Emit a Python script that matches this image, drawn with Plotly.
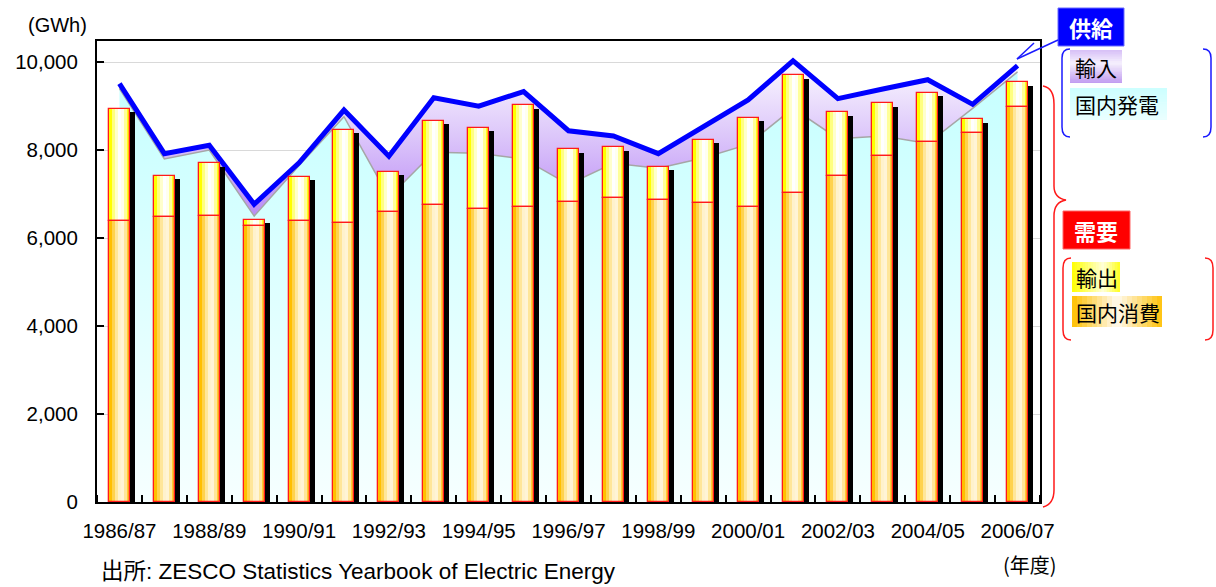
import plotly.graph_objects as go

# ---------------- data (GWh) ----------------
years = ["1986/87", "1987/88", "1988/89", "1989/90", "1990/91", "1991/92", "1992/93",
         "1993/94", "1994/95", "1995/96", "1996/97", "1997/98", "1998/99", "1999/00",
         "2000/01", "2001/02", "2002/03", "2003/04", "2004/05", "2005/06", "2006/07"]
tick_labels = ["1986/87", "", "1988/89", "", "1990/91", "", "1992/93", "", "1994/95", "",
               "1996/97", "", "1998/99", "", "2000/01", "", "2002/03", "", "2004/05", "", "2006/07"]

# supply side
domestic_generation = [9400, 7800, 8000, 6500, 7650, 8760, 6930, 7950, 7930, 7800, 7220,
                       7700, 7590, 7820, 8130, 8950, 8260, 8320, 8150, 8950, 9780]
imports = [110, 120, 110, 270, 60, 150, 930, 1240, 1070, 1530, 1220,
           620, 330, 710, 1010, 1080, 910, 1070, 1450, 90, 140]

# demand side
domestic_consumption = [6390, 6470, 6510, 6270, 6390, 6350, 6590, 6750, 6670, 6710, 6830,
                        6900, 6860, 6790, 6710, 7020, 7420, 7860, 8180, 8380, 8990]
exports = [2550, 950, 1190, 150, 1000, 2110, 910, 1910, 1830, 2310, 1190,
           1160, 760, 1440, 2030, 2680, 1440, 1200, 1120, 320, 550]

y_ticks = [0, 2000, 4000, 6000, 8000, 10000]

# ---------------- helpers ----------------
W, H = 1216, 587
L, R, T, B = 97, 1040, 41, 502


def px(x):
    return (x - L) / (R - L)


def py(y):
    return (B - y) / (B - T)


def hex2rgb(h):
    h = h.lstrip("#")
    return tuple(int(h[i:i + 2], 16) for i in (0, 2, 4))


def interp(stops, t):
    for (t0, c0), (t1, c1) in zip(stops[:-1], stops[1:]):
        if t0 <= t <= t1:
            f = 0 if t1 == t0 else (t - t0) / (t1 - t0)
            a, b = hex2rgb(c0), hex2rgb(c1)
            return "rgb(%d,%d,%d)" % tuple(round(a[i] + (b[i] - a[i]) * f) for i in range(3))
    return stops[-1][1]


x = list(range(len(years)))
supply_total = [g + i for g, i in zip(domestic_generation, imports)]
demand_total = [c + e for c, e in zip(domestic_consumption, exports)]

fig = go.Figure()

# ---- supply areas (base subplot) ----
fig.add_trace(go.Scatter(
    x=x, y=domestic_generation, mode="lines", fill="tozeroy",
    line=dict(color="#a6a6a6", width=1.5),
    fillgradient=dict(type="vertical", start=0, stop=9800,
                      colorscale=[[0, "#f6ffff"], [1, "#c6ffff"]]),
    hoverinfo="skip", showlegend=False))
fig.add_trace(go.Scatter(
    x=x, y=supply_total, mode="lines", fill="tonexty",
    line=dict(color="#0000ff", width=5),
    fillgradient=dict(type="vertical", start=6400, stop=10200,
                      colorscale=[[0, "#b887f5"], [0.5, "#dcc6fa"], [1, "#ffffff"]]),
    hoverinfo="skip", showlegend=False))

# ---- demand bars (overlay subplot, drawn above areas) ----
bw = 21 / ((R - L) / len(years))     # bar width in category units
off0 = -bw / 2
shadow_dx = 5 / ((R - L) / len(years))

fig.add_trace(go.Bar(
    x=x, y=[d - 75 for d in demand_total], base=0, width=bw, offset=off0 + shadow_dx,
    marker=dict(color="black", line=dict(width=0)), yaxis="y2",
    hoverinfo="skip", showlegend=False))

cons_cols = ["#ffbf00", "#ffd24d", "#ffe699", "#fff2cc", "#fff4d6", "#ffe699", "#ffcc33"]
exp_cols = ["#ffff00", "#ffff80", "#ffffcc", "#ffffff", "#ffffee", "#ffff99", "#ffff1a"]
n = len(cons_cols)
sw = bw / n
for k in range(n):
    fig.add_trace(go.Bar(
        x=x, y=domestic_consumption, base=0, width=sw, offset=off0 + k * sw,
        marker=dict(color=cons_cols[k], line=dict(width=0)), yaxis="y2",
        hoverinfo="skip", showlegend=False))
    fig.add_trace(go.Bar(
        x=x, y=exports, base=domestic_consumption, width=sw, offset=off0 + k * sw,
        marker=dict(color=exp_cols[k], line=dict(width=0)), yaxis="y2",
        hoverinfo="skip", showlegend=False))
# red outlines
fig.add_trace(go.Bar(
    x=x, y=domestic_consumption, base=0, width=bw, offset=off0,
    marker=dict(color="rgba(0,0,0,0)", line=dict(color="#ff1a1a", width=1.3)), yaxis="y2",
    hoverinfo="skip", showlegend=False))
fig.add_trace(go.Bar(
    x=x, y=exports, base=domestic_consumption, width=bw, offset=off0,
    marker=dict(color="rgba(0,0,0,0)", line=dict(color="#ff1a1a", width=1.3)), yaxis="y2",
    hoverinfo="skip", showlegend=False))

# ---------------- right-hand legend decorations ----------------
shapes = []
annotations = []


def path(points):
    s = ""
    for cmd, pts in points:
        s += cmd + " " + " ".join("%f,%f" % (px(a), py(b)) for a, b in pts) + " "
    return s.strip()


def grad_box(x0, y0, x1, y1, stops, direction, nsl=18):
    for i in range(nsl):
        t = (i + 0.5) / nsl
        c = interp(stops, t)
        if direction == "h":
            a0 = x0 + (x1 - x0) * i / nsl
            a1 = x0 + (x1 - x0) * (i + 1) / nsl + 0.6
            shapes.append(dict(type="rect", xref="paper", yref="paper",
                               x0=px(a0), x1=px(min(a1, x1)), y0=py(y1), y1=py(y0),
                               fillcolor=c, line=dict(width=0), layer="above"))
        else:
            b0 = y0 + (y1 - y0) * i / nsl
            b1 = y0 + (y1 - y0) * (i + 1) / nsl + 0.6
            shapes.append(dict(type="rect", xref="paper", yref="paper",
                               x0=px(x0), x1=px(x1), y0=py(min(b1, y1)), y1=py(b0),
                               fillcolor=c, line=dict(width=0), layer="above"))


# header boxes
shapes.append(dict(type="rect", xref="paper", yref="paper", x0=px(1058), x1=px(1124),
                   y0=py(46), y1=py(8), fillcolor="#0000ff", line=dict(color="#6b6bff", width=1)))
shapes.append(dict(type="rect", xref="paper", yref="paper", x0=px(1063), x1=px(1130),
                   y0=py(249), y1=py(211), fillcolor="#ff0000", line=dict(color="#ff6666", width=1)))

# arrow from supply box to line end
blue = "#1a1aff"
shapes.append(dict(type="path", xref="paper", yref="paper",
                   path=path([("M", [(1058, 40)]), ("L", [(1017, 59)])]),
                   line=dict(color=blue, width=1.5)))
shapes.append(dict(type="path", xref="paper", yref="paper",
                   path=path([("M", [(1034, 43)]), ("L", [(1017, 59), (1041, 62)])]),
                   line=dict(color=blue, width=1.5)))

# blue bracket
shapes.append(dict(type="path", xref="paper", yref="paper",
                   path=path([("M", [(1070, 49)]), ("Q", [(1062, 49), (1062, 58)]),
                              ("L", [(1062, 127)]), ("Q", [(1062, 137), (1070, 137)])]),
                   line=dict(color=blue, width=1.5)))
shapes.append(dict(type="path", xref="paper", yref="paper",
                   path=path([("M", [(1203, 49)]), ("Q", [(1211, 49), (1211, 58)]),
                              ("L", [(1211, 127)]), ("Q", [(1211, 137), (1203, 137)])]),
                   line=dict(color=blue, width=1.5)))

# big red brace
red = "#ff1a1a"
shapes.append(dict(type="path", xref="paper", yref="paper",
                   path=path([("M", [(1043, 86)]), ("Q", [(1054, 88), (1054, 104)]),
                              ("L", [(1054, 186)]), ("Q", [(1054, 198), (1066, 200)]),
                              ("Q", [(1054, 202), (1054, 216)]),
                              ("L", [(1054, 490)]), ("Q", [(1054, 504), (1043, 507)])]),
                   line=dict(color=red, width=1.5)))
# red bracket
shapes.append(dict(type="path", xref="paper", yref="paper",
                   path=path([("M", [(1071, 258)]), ("Q", [(1063, 258), (1063, 268)]),
                              ("L", [(1063, 330)]), ("Q", [(1063, 340), (1071, 340)])]),
                   line=dict(color=red, width=1.5)))
shapes.append(dict(type="path", xref="paper", yref="paper",
                   path=path([("M", [(1205, 258)]), ("Q", [(1213, 258), (1213, 268)]),
                              ("L", [(1213, 330)]), ("Q", [(1213, 340), (1205, 340)])]),
                   line=dict(color=red, width=1.5)))

# gradient legend boxes
grad_box(1070, 50, 1122, 83, [(0, "#d6bff7"), (0.4, "#f6f0fd"), (1, "#bf9af0")], "v")
grad_box(1070, 88, 1167, 120, [(0, "#ccffff"), (1, "#eaffff")], "v")
grad_box(1072, 262, 1120, 292, [(0, "#ffff00"), (0.65, "#ffffd9"), (1, "#ffff1a")], "h")
grad_box(1072, 296, 1162, 327, [(0, "#ffc000"), (0.5, "#fffaf0"), (1, "#ffc20a")], "h")

cjk = "Noto Sans CJK JP"
latin = "Liberation Sans, Arial, " + cjk


def note(text, cx, cy, size, family, color="black", xanchor="center"):
    annotations.append(dict(text=text, x=px(cx), y=py(cy), xref="paper", yref="paper",
                            xanchor=xanchor, yanchor="middle", showarrow=False,
                            font=dict(family=family, size=size, color=color)))


note("<b>供給</b>", 1091, 27, 22, cjk, "white")
note("<b>需要</b>", 1096, 230, 22, cjk, "white")
note("輸入", 1073, 67, 21, cjk, xanchor="left")
note("国内発電", 1073, 104, 21, cjk, xanchor="left")
note("輸出", 1074, 277, 21, cjk, xanchor="left")
note("国内消費", 1074, 312, 21, cjk, xanchor="left")
note("(GWh)", 57, 25, 20, latin)
note("(年度)", 1030, 564, 20, cjk)
note("出所: ZESCO Statistics Yearbook of Electric Energy", 99, 571, 22.5, latin, xanchor="left")

fig.update_layout(
    width=W, height=H, autosize=False,
    margin=dict(l=L, r=W - R, t=T, b=H - B, pad=0),
    paper_bgcolor="white", plot_bgcolor="white",
    barmode="overlay", bargap=0, showlegend=False,
    shapes=shapes, annotations=annotations,
    font=dict(family=latin, color="black"),
    xaxis=dict(range=[-0.5, len(years) - 0.5], tickmode="array", tickvals=x, ticktext=tick_labels,
               ticks="", showgrid=False, zeroline=False,
               showline=True, linecolor="black", linewidth=2, mirror=True,
               tickfont=dict(size=20.5, family=latin), ticklabelstandoff=9,
               minor=dict(ticks="inside", tick0=0.5, dtick=1, ticklen=7, tickwidth=1.5,
                          tickcolor="black", showgrid=False)),
    yaxis=dict(range=[0, 10480], tickmode="array", tickvals=y_ticks, tickformat=",",
               ticks="inside", ticklen=7, tickwidth=1.5, tickcolor="black",
               showgrid=True, gridcolor="#d9d9d9", gridwidth=1, zeroline=False,
               showline=True, linecolor="black", linewidth=2, mirror=True,
               tickfont=dict(size=20.5, family=latin), ticklabelstandoff=13),
    yaxis2=dict(range=[0, 10480], overlaying="y", visible=False),
)

fig.write_html("out.html",
               config={"displayModeBar": False},
               post_script="document.body.style.margin='0px';"
                           "document.documentElement.style.overflow='hidden';")
